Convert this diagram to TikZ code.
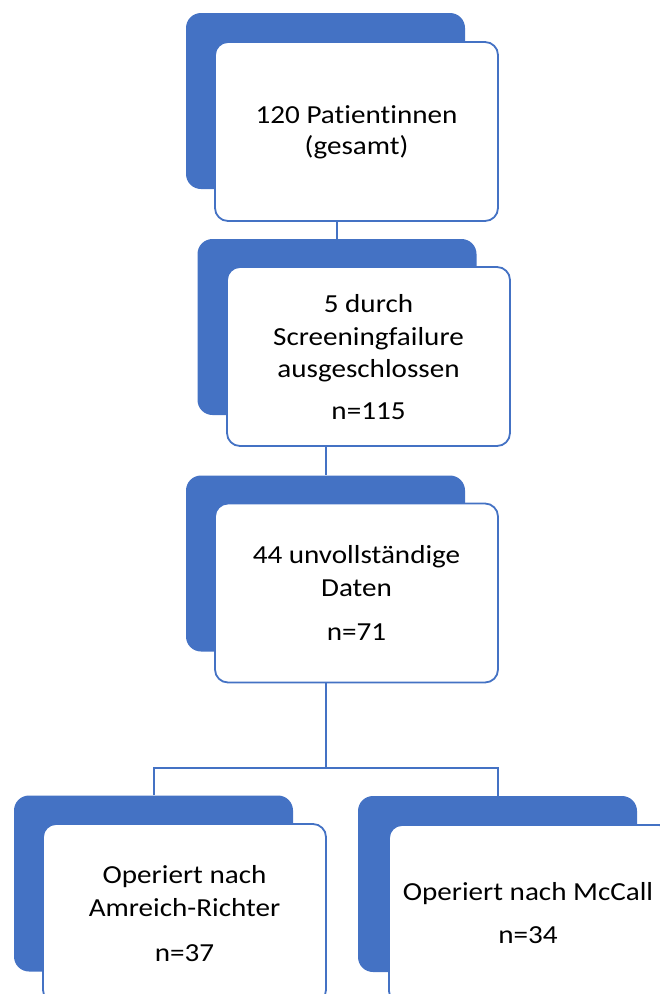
\documentclass[tikz,border=0pt]{standalone}
\usepackage{fontspec}
\setmainfont[FakeStretch=1.12,Ligatures={NoCommon}]{Carlito}
\definecolor{accent}{HTML}{4472C4}
\tikzset{
  back/.style={fill=accent, draw=none, rounded corners=15pt, minimum width=279pt, minimum height=176pt, inner sep=0pt},
  front/.style={fill=white, draw=accent, line width=1.8pt, rounded corners=13pt, minimum width=283pt, minimum height=179pt, inner sep=0pt},
  lbl/.style={anchor=base, inner sep=0pt, font=\fontsize{26pt}{31pt}\selectfont, text=black},
  conn/.style={draw=accent, line width=2pt}
}
\begin{document}
\begin{tikzpicture}[x=1pt,y=-1pt]
\useasboundingbox (0,0) rectangle (660,994);
\clip (0,0) rectangle (660,994);
% boxes
\node[back] (b1) at (325.5,101) {};
\node[front] (w1) at (356.5,131.5) {};
\node[back] (b2) at (337,327) {};
\node[front] (w2) at (368.5,356.5) {};
\node[back] (b3) at (325.5,563.5) {};
\node[front] (w3) at (356.5,593) {};
\node[back] (b4) at (153.5,883.5) {};
\node[front] (w4) at (184.5,913.5) {};
\node[back] (b5) at (497.5,884) {};
\node[front] (w5) at (530.5,914.5) {};
% connectors
\draw[conn] (b2.north |- w1.south) -- (b2.north);
\draw[conn] (b3.north |- w2.south) -- (b3.north);
\coordinate (j) at (325.5,768);
\draw[conn] (b3.north |- w3.south) -- (j);
\draw[conn] (b4.north) -- (b4.north |- j) -- (b5.north |- j) -- (b5.north);
% texts
\node[lbl] (t1a) at (356.5,123) {120 Patientinnen};
\node[lbl] (t1b) at (356.5,154) {(gesamt)};
\node[lbl] (t2a) at (368.5,312) {5 durch};
\node[lbl] (t2b) at (368.5,345) {Screeningfailure};
\node[lbl] (t2c) at (368.5,377) {ausgeschlossen};
\node[lbl] (t2d) at (368.5,419) {n=115};
\node[lbl] (t3a) at (356.5,563) {44 unvollständige};
\node[lbl] (t3b) at (356.5,596) {Daten};
\node[lbl] (t3c) at (356.5,640) {n=71};
\node[lbl] (t4a) at (184.5,883) {Operiert nach};
\node[lbl] (t4b) at (184.5,916) {Amreich-Richter};
\node[lbl] (t4c) at (184.5,961) {n=37};
\node[lbl] (t5a) at (528,900) {Operiert nach McCall};
\node[lbl] (t5b) at (528,943) {n=34};
\end{tikzpicture}
\end{document}
